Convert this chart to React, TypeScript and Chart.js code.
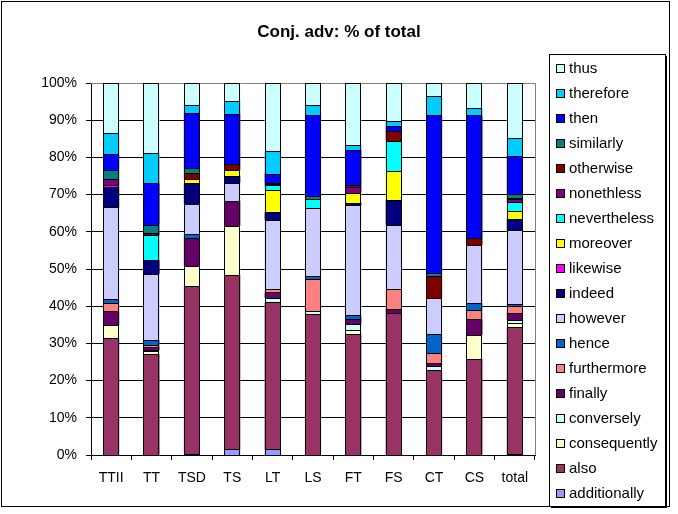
import React, { useEffect, useRef } from "react";
import { Chart, registerables } from "chart.js";

Chart.register(...registerables);

const categories = ["TTII", "TT", "TSD", "TS", "LT", "LS", "FT", "FS", "CT", "CS", "total"];
const yTicks = [0, 10, 20, 30, 40, 50, 60, 70, 80, 90, 100];

// stack order bottom -> top
const seriesNames = [
  "additionally", "also", "consequently", "conversely", "finally", "furthermore",
  "hence", "however", "indeed", "likewise", "moreover", "nevertheless",
  "nonethless", "otherwise", "similarly", "then", "therefore", "thus",
];
const seriesColors = [
  "#9999FF", "#993366", "#FFFFCC", "#CCFFFF", "#660066", "#FF8080",
  "#0066CC", "#CCCCFF", "#000080", "#FF00FF", "#FFFF00", "#00FFFF",
  "#800080", "#800000", "#008080", "#0000FF", "#00CCFF", "#CCFFFF",
];

const additionally = [0, 0, 0.4, 1.5, 1.5, 0, 0, 0, 0, 0, 0.3];
const also = [31.3, 27.2, 45.1, 47.0, 39.5, 38.1, 32.6, 38.1, 22.8, 25.8, 34.1];
const consequently = [3.4, 0.8, 5.3, 13.1, 0, 0, 0.9, 0, 0, 6.6, 1.3];
const conversely = [0, 0.3, 0, 0, 1.2, 0.8, 1.6, 0, 1.1, 0, 0.8];
const finally_ = [3.8, 0.9, 7.4, 6.8, 1.5, 0, 1.5, 1.3, 0.8, 4.3, 1.9];
const furthermore = [2.2, 0.5, 0, 0, 0.8, 8.6, 0, 5.4, 2.7, 2.2, 1.9];
const hence = [1.1, 1.3, 1.3, 0, 0, 0.8, 1.0, 0, 5.1, 2.0, 0.5];
const however = [24.4, 17.7, 8.0, 4.8, 18.6, 18.2, 29.6, 17.2, 9.7, 15.6, 19.9];
const indeed = [5.5, 3.8, 5.5, 1.9, 2.2, 0, 0.6, 6.7, 0, 0, 3.0];
const likewise = [0.5, 0, 0, 0, 0, 0, 0, 0, 0, 0, 0];
const moreover = [0, 0, 1.3, 1.5, 5.9, 0, 2.7, 7.8, 0, 0, 2.2];
const nevertheless = [0, 6.8, 0, 0, 1.3, 2.5, 0, 8.1, 0, 0, 2.2];
const nonethless = [1.6, 0, 0, 0, 0, 0, 1.6, 0, 0, 0, 0.8];
const otherwise = [0, 0.6, 1.5, 1.7, 0.3, 0, 0.5, 2.7, 5.9, 1.9, 0.5];
const similarly = [2.4, 2.2, 1.3, 0, 0.4, 0.7, 0, 0, 0.8, 0, 1.1];
const then = [4.3, 11.3, 14.8, 13.4, 2.4, 21.9, 9.4, 1.3, 42.5, 33.0, 10.2];
const therefore = [5.6, 8.0, 2.2, 3.5, 6.1, 2.7, 1.3, 1.3, 5.1, 2.0, 4.8];
const thus = [13.4, 18.9, 5.9, 4.8, 18.3, 5.9, 16.7, 10.2, 3.5, 6.7, 14.8];

const seriesValues = [
  additionally, also, consequently, conversely, finally_, furthermore,
  hence, however, indeed, likewise, moreover, nevertheless,
  nonethless, otherwise, similarly, then, therefore, thus,
];

const titleText = "Conj. adv: % of total";
const FONT = "Arial, 'Liberation Sans', sans-serif";

export default function App() {
  const ref = useRef<HTMLCanvasElement>(null);

  useEffect(() => {
    if (!ref.current) return;
    // 100% stacked: each category normalised to its total
    const totals = categories.map((_, i) =>
      seriesValues.reduce((s, arr) => s + arr[i], 0)
    );
    const datasets = seriesNames.map((name, k) => ({
      label: name,
      data: seriesValues[k].map((v, i) => (v / totals[i]) * 100),
      backgroundColor: seriesColors[k],
      borderWidth: 0,
      inflateAmount: 0,
      categoryPercentage: 1,
      barPercentage: 0.4,
    }));

    const framePlugin = {
      id: "frame",
      beforeDatasetsDraw(chart: any) {
        const { ctx, chartArea } = chart;
        ctx.save();
        ctx.strokeStyle = "#808080";
        ctx.lineWidth = 1;
        ctx.beginPath();
        ctx.moveTo(chartArea.left, Math.round(chartArea.top) + 0.5);
        ctx.lineTo(Math.round(chartArea.right) + 0.5, Math.round(chartArea.top) + 0.5);
        ctx.lineTo(Math.round(chartArea.right) + 0.5, chartArea.bottom);
        ctx.stroke();
        ctx.restore();
      },
      afterDatasetsDraw(chart: any) {
        // crisp black outlines around every bar segment (pixel aligned)
        const { ctx } = chart;
        ctx.save();
        ctx.strokeStyle = "#000000";
        ctx.lineWidth = 1;
        chart.data.datasets.forEach((_: any, di: number) => {
          const meta = chart.getDatasetMeta(di);
          meta.data.forEach((el: any) => {
            const p = el.getProps(["x", "y", "base", "width"], true);
            const top = Math.round(Math.min(p.y, p.base));
            const bot = Math.round(Math.max(p.y, p.base));
            if (bot - top < 0.5) return;
            const l = Math.round(p.x - p.width / 2);
            const w = Math.round(p.width);
            ctx.fillStyle = seriesColors[di];
            ctx.fillRect(l, top, w, bot - top);
            ctx.strokeRect(l + 0.5, top + 0.5, w - 1, bot - top);
          });
        });
        ctx.restore();
      },
      afterDraw(chart: any) {
        const { ctx } = chart;
        ctx.save();
        // outer border
        ctx.strokeStyle = "#000000";
        ctx.lineWidth = 1;
        ctx.strokeRect(1.5, 1.5, 668, 505);
        // title
        ctx.fillStyle = "#000000";
        ctx.font = `bold 17px ${FONT}`;
        ctx.textAlign = "center";
        ctx.textBaseline = "middle";
        ctx.fillText(titleText, 339, 32);
        // legend box
        const lx = 549, ly = 54, lw = 116, lh = 452;
        ctx.fillStyle = "#000000";
        ctx.fillRect(lx + 2, ly + lh, lw, 2);
        ctx.fillRect(lx + lw, ly + 2, 2, lh);
        ctx.fillStyle = "#FFFFFF";
        ctx.fillRect(lx, ly, lw, lh);
        ctx.strokeStyle = "#000000";
        ctx.strokeRect(lx + 0.5, ly + 0.5, lw, lh);
        ctx.font = `15px ${FONT}`;
        ctx.textAlign = "left";
        ctx.textBaseline = "middle";
        for (let j = 0; j < seriesNames.length; j++) {
          const k = seriesNames.length - 1 - j;
          const cy = 68 + j * 25;
          ctx.fillStyle = seriesColors[k];
          ctx.fillRect(556, cy - 4, 8, 8);
          ctx.strokeStyle = "#000000";
          ctx.strokeRect(556.5, cy - 3.5, 8, 8);
          ctx.fillStyle = "#000000";
          ctx.fillText(seriesNames[k], 569, cy + 1);
        }
        ctx.restore();
      },
    };

    const chart = new Chart(ref.current, {
      type: "bar",
      data: { labels: categories, datasets },
      options: {
        responsive: false,
        animation: false,
        devicePixelRatio: 1,
        layout: { padding: { left: 31, right: 143, top: 83, bottom: 19 } },
        plugins: {
          legend: { display: false },
          title: { display: false },
          tooltip: { enabled: false },
        },
        scales: {
          x: {
            stacked: true,
            offset: true,
            grid: {
              offset: true,
              drawOnChartArea: false,
              drawTicks: true,
              tickLength: 5,
              color: "#000000",
            },
            border: { color: "#000000", width: 1 },
            ticks: {
              color: "#000000",
              font: { family: FONT, size: 14 },
              padding: 10,
              maxRotation: 0,
              autoSkip: false,
            },
            afterFit: (s: any) => { s.height = 40; },
          },
          y: {
            stacked: true,
            min: 0,
            max: 100,
            afterBuildTicks: (s: any) => { s.ticks = yTicks.map((v) => ({ value: v })); },
            grid: {
              color: "#000000",
              tickColor: "#000000",
              tickLength: 5,
            },
            border: { color: "#000000", width: 1 },
            ticks: {
              color: "#000000",
              font: { family: FONT, size: 14 },
              padding: 9,
              callback: (v: any) => `${v}%`,
            },
            afterFit: (s: any) => { s.width = 60; },
          },
        },
      },
      plugins: [framePlugin],
    });
    return () => chart.destroy();
  }, []);

  return (
    <div style={{ position: "absolute", left: 0, top: 0, width: 678, height: 514, background: "#fff" }}>
      <canvas ref={ref} width={678} height={514} style={{ display: "block" }} />
    </div>
  );
}
